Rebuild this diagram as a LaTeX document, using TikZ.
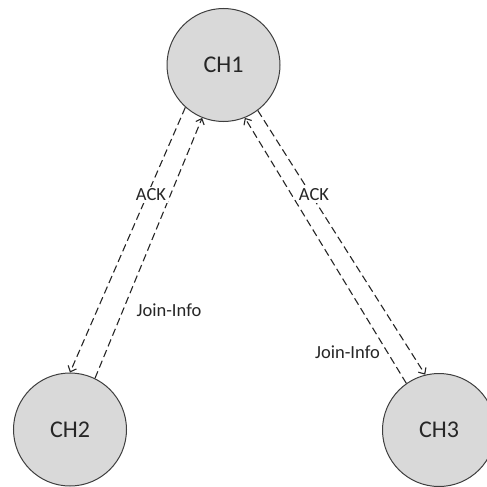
\documentclass[tikz,border=0pt]{standalone}
\usepackage{fontspec}
\setmainfont{Carlito}
\usepackage{tikz}
\usetikzlibrary{arrows.meta}
\definecolor{chfill}{HTML}{D9D9D9}
\definecolor{chline}{HTML}{3F3F3F}
\definecolor{txt}{HTML}{262626}

\begin{document}
\begin{tikzpicture}[x=1pt,y=-1pt]
			\def\rad{56.5}
			\tikzset{chnode/.style={draw=chline,shape=circle,fill=chfill,line width=1pt, inner sep=0pt, minimum size=2*\rad pt, text=txt, font=\fontsize{24}{28}\selectfont}}
			\tikzset{msg/.style={draw=black!85,line width=1.1pt,dash pattern=on 7.5pt off 4pt,-{Straight Barb[length=5pt,width=9pt]}}}
			\tikzset{msglabel/.style={text=txt, fill=white, inner sep=1.5pt, font=\fontsize{18.5}{22}\selectfont}}
			\useasboundingbox (0,0) rectangle (487,487);
			\foreach\n/\x/\y in {1/223.5/65,2/70/429.5,3/439/430}{
				\node[chnode] (ch\n) at (\x,\y) {CH\n};
			}
			% acknowledgements go down, join info goes up
			\draw[msg] (ch1.228) -- (ch2.90);
			\draw[msg] (ch2.64) -- (ch1.248.5);
			\draw[msg] (ch1.307.5) -- (ch3.104.8);
			\draw[msg] (ch3.125.4) -- (ch1.292.5);
			\node[msglabel] (ack2) at (151,195) {ACK};
			\node[msglabel] (join2) at (169,310.5) {Join-Info};
			\node[msglabel] (ack3) at (314,195) {ACK};
			\node[msglabel] (join3) at (347.5,352.5) {Join-Info};
		\end{tikzpicture}
\end{document}
